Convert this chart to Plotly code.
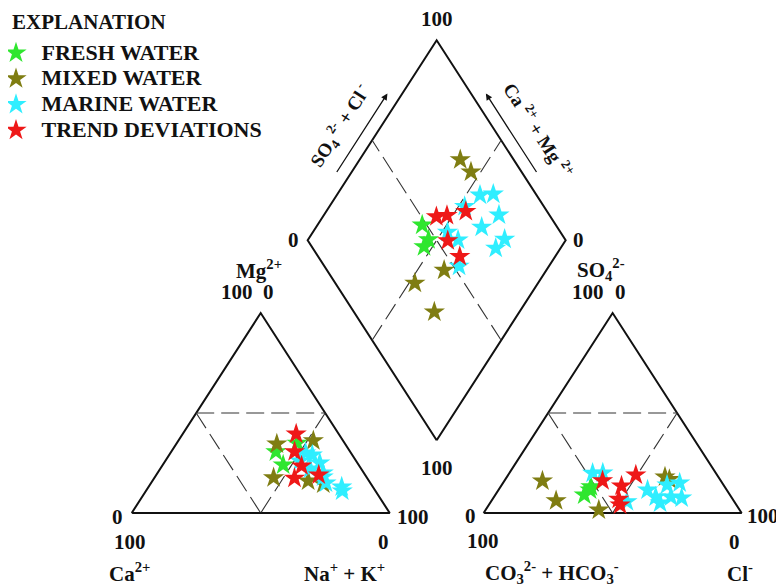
import math
import plotly.graph_objects as go

# ---------------- data (percent of meq/L) ----------------
group_names = ["FRESH WATER", "MIXED WATER", "MARINE WATER", "TREND DEVIATIONS"]

fresh_mg = [30.6, 34.9, 24.0]
fresh_nak = [40.6, 46.7, 46.7]
fresh_so4 = [13.2, 11.5, 9.0]
fresh_cl = [35.0, 35.5, 34.5]

mixed_mg = [34.5, 17.6, 16.0, 36.2, 14.5]
mixed_nak = [39.0, 46.2, 60.4, 52.3, 67.0]
mixed_so4 = [18.0, 16.8, 1.5, 16.0, 6.2]
mixed_cl = [61.3, 63.6, 43.9, 14.8, 25.0]

marine_mg = [29.0, 25.0, 15.0, 20.0, 11.0, 13.0, 22.0, 18.0, 30.0, 26.0]
marine_nak = [55.5, 60.4, 67.8, 64.2, 76.1, 74.9, 58.2, 65.2, 52.4, 52.2]
marine_so4 = [14.0, 15.0, 7.5, 8.0, 8.0, 5.0, 5.7, 19.9, 11.5, 20.0]
marine_cl = [64.1, 68.5, 73.0, 62.7, 68.6, 65.9, 52.7, 32.3, 57.8, 36.2]

trend_mg = [39.5, 30.7, 23.5, 17.4, 19.0]
trend_nak = [44.0, 47.8, 54.1, 54.4, 63.0]
trend_so4 = [6.9, 13.5, 19.0, 16.2, 4.0]
trend_cl = [48.9, 46.7, 49.5, 38.0, 50.9]

group_colors = ["#2fe62f", "#7f7d12", "#2feeff", "#ee1818"]

# ---------------- geometry (style) ----------------
H = 77.5          # triangle height in axis units (base = 100)
GAP = 36.4        # gap between triangles
X0 = 100 + GAP    # left corner of anion triangle
BX, BY = 100 + GAP / 2, GAP / 2 * H / 50   # diamond bottom vertex
PX = 2.58         # pixels per axis unit
OFF = 8           # page body margin
FIG_W, FIG_H = 784 - OFF, 586 - OFF
ORIG_X, ORIG_Y = 131.7 - OFF, 513 - OFF    # figure pixel of (0, 0)


def cation_xy(mg, nak):
    return nak + mg / 2, mg * H / 100


def anion_xy(so4, cl):
    return X0 + cl + so4 / 2, so4 * H / 100


def diamond_xy(c, q):
    # c = Ca+Mg %, q = SO4+Cl %
    return BX + 0.5 * (q - c), BY + H * (c + q) / 100


fig = go.Figure()

BLACK = "#111111"
DASH = "#333333"


def add_line(pts, dash=None, width=2.0, color=BLACK):
    fig.add_trace(go.Scatter(
        x=[p[0] for p in pts], y=[p[1] for p in pts], mode="lines",
        line=dict(color=color, width=width, dash=dash),
        hoverinfo="skip", showlegend=False))


# triangle outlines
add_line([(0, 0), (100, 0), (50, H), (0, 0)])
add_line([(X0, 0), (X0 + 100, 0), (X0 + 50, H), (X0, 0)])
# diamond outline
add_line([diamond_xy(0, 0), diamond_xy(100, 0), diamond_xy(100, 100),
          diamond_xy(0, 100), diamond_xy(0, 0)])

# dashed subdivision lines
dash_style = "18px,7px"
for off in (0, X0):
    add_line([(off + 25, H / 2), (off + 75, H / 2)], dash=dash_style, width=1.1, color=DASH)
    add_line([(off + 25, H / 2), (off + 50, 0)], dash=dash_style, width=1.1, color=DASH)
    add_line([(off + 75, H / 2), (off + 50, 0)], dash=dash_style, width=1.1, color=DASH)
add_line([diamond_xy(0, 50), diamond_xy(100, 50)], dash=dash_style, width=1.1, color=DASH)
add_line([diamond_xy(50, 0), diamond_xy(50, 100)], dash=dash_style, width=1.1, color=DASH)

FONT = "Liberation Serif, Times New Roman, serif"
FS = 21
LEG_FS = 17.5

# data points
all_groups = [
    (fresh_mg, fresh_nak, fresh_so4, fresh_cl),
    (mixed_mg, mixed_nak, mixed_so4, mixed_cl),
    (marine_mg, marine_nak, marine_so4, marine_cl),
    (trend_mg, trend_nak, trend_so4, trend_cl),
]
for name, color, (mg, nak, so4, cl) in zip(group_names, group_colors, all_groups):
    xs, ys = [], []
    for m, n, s, c in zip(mg, nak, so4, cl):
        for px, py in (cation_xy(m, n), anion_xy(s, c), diamond_xy(100 - n, s + c)):
            xs.append(px)
            ys.append(py)
    fig.add_trace(go.Scatter(
        x=xs, y=ys, mode="markers",
        name="<b><span style='font-size:22px'>\u00a0%s</span></b>" % name,
        marker=dict(symbol="star", size=16, color=color, line=dict(width=0)),
        hoverinfo="skip"))

annotations = []


def label(text, x, y, dx=0, dy=0, size=FS, angle=0):
    annotations.append(dict(
        x=x, y=y, xref="x", yref="y", text="<b>" + text + "</b>",
        showarrow=False, xshift=dx, yshift=dy, textangle=angle,
        font=dict(family=FONT, size=size, color=BLACK),
        xanchor="center", yanchor="middle"))


# diamond vertex labels
T = diamond_xy(100, 100)
Lv = diamond_xy(100, 0)
Rv = diamond_xy(0, 100)
Bv = diamond_xy(0, 0)
label("100", *T, dy=21)
label("0", *Lv, dx=-14)
label("0", *Rv, dx=13)
label("100", *Bv, dy=-28)

# cation triangle labels
label("Mg<sup>2+</sup>", 50, H, dx=-2, dy=44)
label("100", 50, H, dx=-24, dy=21)
label("0", 50, H, dx=8, dy=21)
label("0", 0, 0, dx=-14, dy=-4)
label("100", 0, 0, dx=-2, dy=-29)
label("0", 100, 0, dx=-6, dy=-29)
label("100", 100, 0, dx=23, dy=-4)
label("Ca<sup>2+</sup>", 0, 0, dx=-2, dy=-59)
label("Na<sup>+</sup> + K<sup>+</sup>", 100, 0, dx=-45, dy=-59)

# anion triangle labels
label("SO<sub>4</sub><sup>2-</sup>", X0 + 50, H, dx=-12, dy=44)
label("100", X0 + 50, H, dx=-25, dy=21)
label("0", X0 + 50, H, dx=8, dy=21)
label("0", X0, 0, dx=-13, dy=-3)
label("100", X0, 0, dx=-1, dy=-28)
label("0", X0 + 100, 0, dx=-7, dy=-29)
label("100", X0 + 100, 0, dx=21, dy=-3)
label("CO<sub>3</sub><sup>2-</sup> + HCO<sub>3</sub><sup>-</sup>", X0, 0, dx=68, dy=-59)
label("Cl<sup>-</sup>", X0 + 100, 0, dx=-2, dy=-59)

# arrows and rotated labels alongside the upper diamond edges
ang = math.degrees(math.atan2(H, 50))
norm = math.hypot(50, H)


def along(p0, p1, f, nvec, off_px):
    return (p0[0] + (p1[0] - p0[0]) * f + nvec[0] * off_px / PX,
            p0[1] + (p1[1] - p0[1]) * f + nvec[1] * off_px / PX)


n_left = (-H / norm, 50 / norm)
n_right = (H / norm, 50 / norm)
for p0, nv in ((Lv, n_left), (Rv, n_right)):
    tail = along(p0, T, 0.30, nv, 12.5)
    head = along(p0, T, 0.70, nv, 12.5)
    annotations.append(dict(
        x=head[0], y=head[1], ax=tail[0], ay=tail[1], xref="x", yref="y",
        axref="x", ayref="y", text="", showarrow=True, arrowhead=2,
        arrowsize=1.0, arrowwidth=1.3, arrowcolor=BLACK, standoff=0))

c_left = along(Lv, T, 0.48, n_left, 35)
label("SO<sub>4</sub><sup> 2-</sup> + Cl<sup> -</sup>", *c_left, angle=-ang, size=19)
c_right = along(Rv, T, 0.45, n_right, 37)
label("Ca <sup>2+</sup> + Mg <sup>2+</sup>", *c_right, angle=ang, size=19)

# legend heading
annotations.append(dict(
    x=2 / FIG_W, y=1 - 14 / FIG_H, xref="paper", yref="paper",
    xanchor="left", yanchor="middle", showarrow=False,
    text="<b>EXPLANATION</b>", font=dict(family=FONT, size=FS, color=BLACK)))

fig.update_layout(
    width=FIG_W, height=FIG_H,
    margin=dict(l=0, r=0, t=0, b=0),
    paper_bgcolor="white", plot_bgcolor="white",
    xaxis=dict(range=[-ORIG_X / PX, (FIG_W - ORIG_X) / PX], visible=False),
    yaxis=dict(range=[-(FIG_H - ORIG_Y) / PX, ORIG_Y / PX], visible=False),
    annotations=annotations,
    showlegend=True,
    legend=dict(
        x=0, y=1 - 27 / FIG_H, xanchor="left", yanchor="top",
        indentation=-12,
        font=dict(family=FONT, size=LEG_FS, color=BLACK),
        bgcolor="rgba(0,0,0,0)", itemsizing="trace",
    ),
)

fig.write_html("out.html")
